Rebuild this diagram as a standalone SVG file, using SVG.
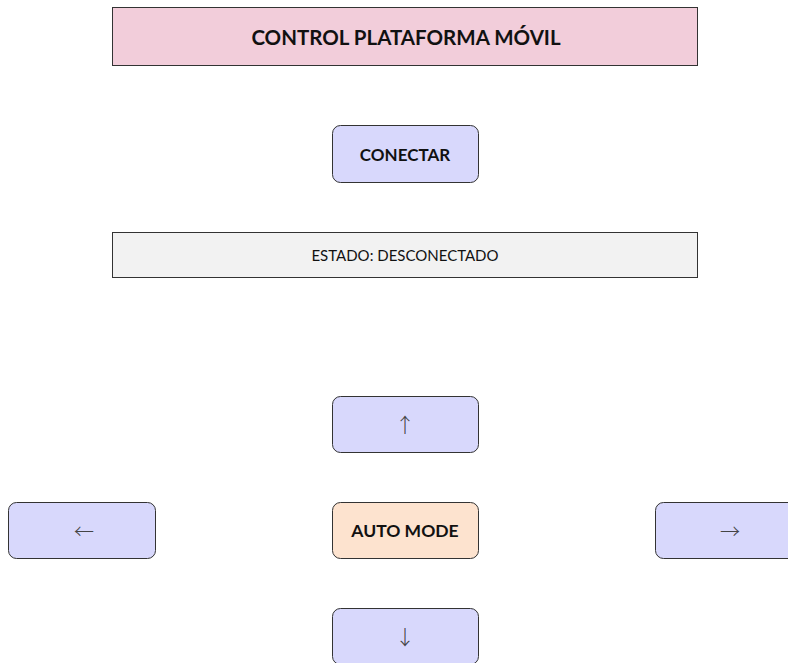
<svg xmlns="http://www.w3.org/2000/svg" width="788" height="663" viewBox="0 0 788 663">
  <style>
    text { font-family: Lato, "Open Sans", sans-serif; fill: #111; text-anchor: middle; dominant-baseline: central; }
    .box { stroke: #333; stroke-width: 1; }
    .btn { fill: #d8d8fc; stroke: #333; stroke-width: 1; }
    .bold { font-weight: bold; font-size: 17px; }
    .arrow { font-family: "Noto Sans CJK JP", sans-serif; font-size: 20px; fill: #444; font-weight: 300; }
  </style>
  <rect width="788" height="663" fill="#ffffff"/>
  <g id="title">
    <rect class="box" x="112.5" y="7.5" width="585" height="58" fill="#f2cdda"/>
    <text x="406" y="37" class="bold" style="font-size:20.5px">CONTROL PLATAFORMA MÓVIL</text>
  </g>
  <g id="connect">
    <rect class="btn" x="332.5" y="125.5" width="146" height="57" rx="8"/>
    <text x="405" y="154" class="bold">CONECTAR</text>
  </g>
  <g id="status">
    <rect class="box" x="112.5" y="232.5" width="585" height="45" fill="#f2f2f2"/>
    <text x="405" y="255" style="font-size:15px">ESTADO: DESCONECTADO</text>
  </g>
  <g id="up">
    <rect class="btn" x="332.5" y="396.5" width="146" height="56" rx="8"/>
    <text x="405" y="424" class="arrow">↑</text>
  </g>
  <g id="left">
    <rect class="btn" x="8.5" y="502.5" width="147" height="56" rx="8"/>
    <text x="84" y="530" class="arrow">←</text>
  </g>
  <g id="auto">
    <rect class="box" x="332.5" y="502.5" width="146" height="56" rx="8" fill="#fde3cf"/>
    <text x="405" y="530" class="bold" style="font-size:17.5px">AUTO MODE</text>
  </g>
  <g id="right">
    <rect class="btn" x="655.5" y="502.5" width="147" height="56" rx="8"/>
    <text x="730" y="530" class="arrow">→</text>
  </g>
  <g id="down">
    <rect class="btn" x="332.5" y="608.5" width="146" height="56" rx="8"/>
    <text x="405" y="636" class="arrow">↓</text>
  </g>
  <g id="connectors"></g>
</svg>
